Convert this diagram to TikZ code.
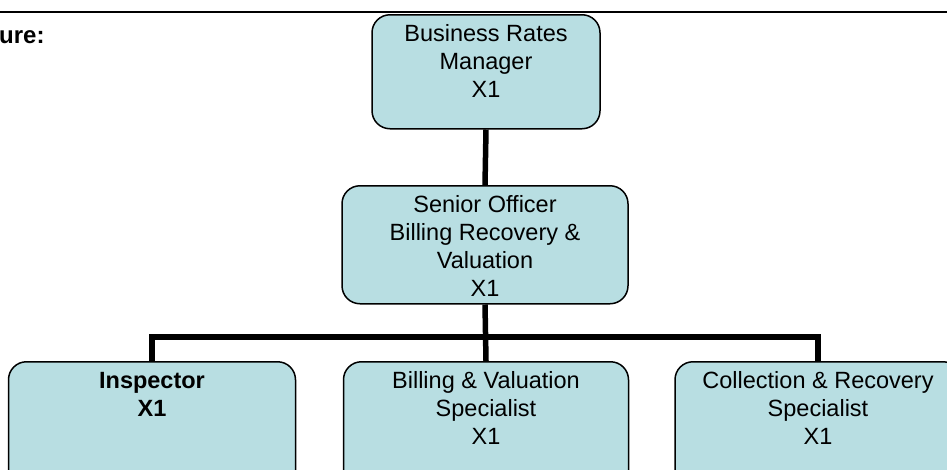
\documentclass[tikz,border=0pt]{standalone}
\usepackage{fontspec}
\setmainfont{Liberation Sans}
\definecolor{boxfill}{RGB}{184,222,226}
% fixed-size text block: width, height, centred lines with the first baseline 27pt below the top
\newcommand{\boxlines}[3]{\parbox[t][#2][t]{#1}{\centering\rule{0pt}{27pt}#3}}
\begin{document}
\begin{tikzpicture}[x=1pt,y=-1pt,
  orgbox/.style={draw=black,line width=1.5pt,fill=boxfill,rounded corners=18pt,
    inner sep=0pt,anchor=north,font=\fontsize{23.5pt}{28pt}\selectfont},
  link/.style={line width=5.5pt,black,line join=miter}]
\useasboundingbox (0,0) rectangle (947,469);
\clip (0,0) rectangle (947,469);

% heading rule and heading text
\draw[line width=2pt] (0,12) -- (947,12);
\node[anchor=base west,inner sep=0pt,font=\fontsize{24pt}{28pt}\selectfont\bfseries] (title) at (-1,43) {ure:};

% boxes
\node[orgbox] (mgr) at (486,14) {\boxlines{228pt}{114pt}{Business Rates\\Manager\\X1}};
\node[orgbox] (senior) at (485,185) {\boxlines{286pt}{118pt}{Senior Officer\\Billing Recovery \&\\Valuation\\X1}};
\node[orgbox] (insp) at (152,361) {\boxlines{287pt}{130pt}{\bfseries Inspector\\X1}};
\node[orgbox] (bill) at (486,361) {\boxlines{285pt}{130pt}{Billing \& Valuation\\Specialist\\X1}};
\node[orgbox] (coll) at (818,361) {\boxlines{286pt}{130pt}{Collection \& Recovery\\Specialist\\X1}};

% connectors
\coordinate (bar) at (486,337);
\draw[link] (mgr.south) -- (senior.north);
\draw[link] (senior.south) -- (bill.north);
\draw[link] (insp.north) |- (bar) -| (coll.north);
\end{tikzpicture}
\end{document}
